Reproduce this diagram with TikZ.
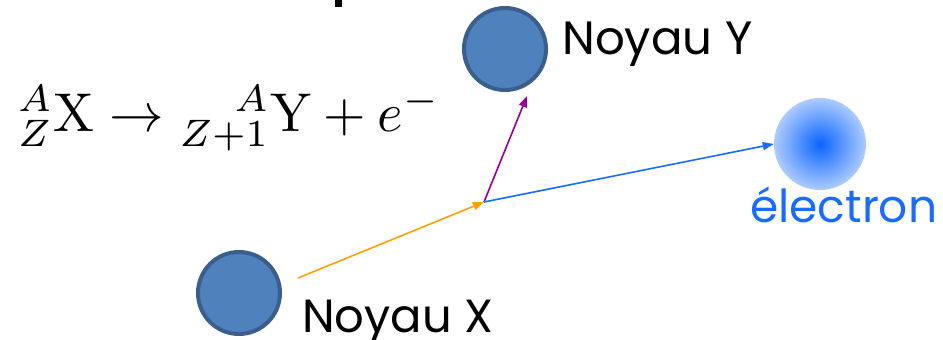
\documentclass[tikz,border=0pt]{standalone}
\usepackage[no-math]{fontspec}
\usepackage{graphicx}
\setmainfont{Poppins}
\usetikzlibrary{arrows.meta}
\definecolor{nucfill}{HTML}{4F81BD}
\definecolor{nucdraw}{HTML}{3A5F8C}
\definecolor{arrorange}{HTML}{FFA00A}
\definecolor{arrpurple}{HTML}{990099}
\definecolor{arrblue}{HTML}{1A6BFF}
\definecolor{ecenter}{HTML}{0A64FF}
\definecolor{eedge}{HTML}{ADCBFF}
\begin{document}
\begin{tikzpicture}[x=1pt,y=1pt,
  nucleus/.style={circle,fill=nucfill,draw=nucdraw,line width=4pt,minimum size=82pt,inner sep=0pt},
  elec/.style={circle,inner color=ecenter,outer color=eedge,minimum size=92pt,inner sep=0pt},
  lbl/.style={inner sep=0pt,anchor=base west},
  vec/.style={line width=1.6pt,-{Triangle[length=11pt,width=8pt]}}]
\useasboundingbox (0,0) rectangle (943,340);
\fill (335,333) rectangle (342,340);
% nuclei and electron
\node[nucleus] (X) at (239,47) {};
\node[nucleus] (Y) at (505,291) {};
\node[elec] (e) at (820,196) {};
% labels
\node[lbl] (lx) at (302,8) {\resizebox{191pt}{!}{Noyau X}};
\node[lbl] (ly) at (562,285) {\resizebox{190pt}{!}{Noyau Y}};
\node[lbl,text=arrblue] (le) at (750,117) {\resizebox{187pt}{!}{électron}};
% equation
\node[inner sep=0pt,anchor=north west] (eq) at (18,255)
  {\resizebox{422pt}{!}{${}^{A}_{Z}\mathrm{X}\rightarrow{}^{\hphantom{Z+1}\llap{$\scriptstyle A$}}_{Z+1}\mathrm{Y}+e^{-}$}};
% vectors
\coordinate (os) at (298,62);
\coordinate (v) at (484,138);
\coordinate (pt) at (527,244);
\draw[vec,arrorange] (os) -- (v);
\draw[vec,arrpurple] (v) -- (pt);
\draw[vec,arrblue] (v) -- (e.west);
\end{tikzpicture}
\end{document}
